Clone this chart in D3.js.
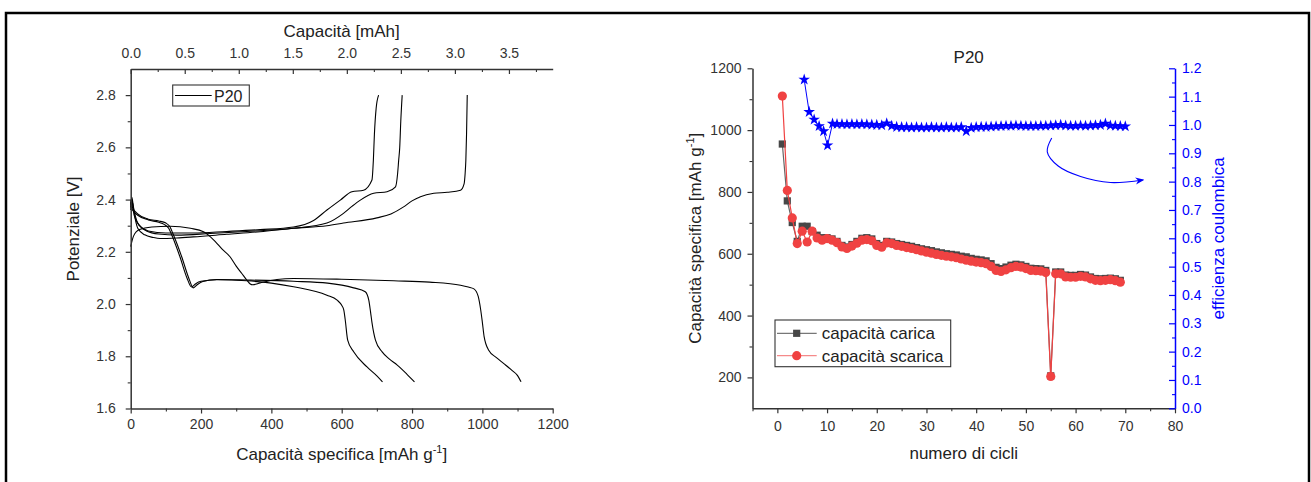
<!DOCTYPE html>
<html>
<head>
<meta charset="utf-8">
<script src="https://cdnjs.cloudflare.com/ajax/libs/d3/7.8.5/d3.min.js"></script>
<style>
body { margin: 0; background: #fff; }
svg text { font-family: "Liberation Sans", Arial, sans-serif; }
</style>
</head>
<body>
<svg id="chart"></svg>
<script>

// ---- left panel: potential profiles (capacity mAh/g, V)
var dis1 = [[0,2.22],[8,2.26],[25,2.285],[60,2.295],[112,2.298],[170,2.29],[207,2.277],[221,2.264],[240,2.24],[260,2.21],[283,2.18],[300,2.145],[316,2.117],[330,2.092],[340,2.077],[347,2.074],[368,2.081],[416,2.094],[463,2.098],[600,2.095],[748,2.089],[850,2.084],[938,2.072],[960,2.065],[976,2.058],[988,2.03],[995,1.98],[1000,1.93],[1005,1.875],[1018,1.823],[1040,1.795],[1061,1.772],[1085,1.745],[1099,1.728],[1110,1.702]];
var dis2 = [[0,2.40],[5,2.37],[20,2.345],[50,2.325],[80,2.318],[100,2.31],[112,2.295],[120,2.27],[145,2.181],[165,2.10],[178,2.062],[190,2.075],[205,2.086],[245,2.094],[330,2.092],[463,2.087],[560,2.08],[634,2.062],[667,2.047],[677,2.015],[682,1.97],[686,1.93],[696,1.862],[715,1.817],[735,1.79],[758,1.766],[785,1.732],[807,1.702]];
var dis3 = [[0,2.39],[5,2.36],[20,2.34],[50,2.322],[80,2.313],[95,2.305],[108,2.29],[115,2.27],[140,2.181],[160,2.10],[173,2.065],[185,2.078],[200,2.087],[245,2.093],[330,2.089],[400,2.08],[463,2.066],[558,2.034],[587,2.015],[600,1.995],[606,1.977],[610,1.94],[617,1.862],[634,1.817],[672,1.759],[700,1.725],[716,1.702]];
var ch1 = [[0,2.36],[3,2.40],[8,2.36],[20,2.29],[40,2.265],[64,2.255],[83,2.251],[131,2.253],[178,2.257],[273,2.267],[368,2.277],[463,2.29],[558,2.30],[605,2.31],[700,2.33],[740,2.345],[776,2.372],[800,2.395],[824,2.411],[862,2.424],[900,2.428],[938,2.436],[948,2.46],[951,2.5],[953,2.55],[955,2.65],[957,2.8]];
var ch2 = [[0,2.37],[3,2.41],[8,2.37],[20,2.31],[45,2.28],[80,2.268],[131,2.264],[226,2.27],[330,2.278],[463,2.29],[558,2.31],[605,2.347],[630,2.375],[653,2.398],[691,2.424],[729,2.43],[753,2.449],[759,2.5],[762,2.55],[765,2.6],[768,2.7],[772,2.8]];
var ch3 = [[0,2.38],[3,2.40],[10,2.34],[25,2.30],[50,2.28],[100,2.272],[178,2.272],[273,2.278],[368,2.285],[463,2.295],[520,2.32],[558,2.36],[596,2.398],[629,2.43],[662,2.436],[686,2.475],[690,2.55],[693,2.65],[698,2.75],[705,2.8]];
var profiles = [dis1, dis2, dis3, ch1, ch2, ch3];

var capTicks = [0,200,400,600,800,1000,1200];
var potTicks = [1.6,1.8,2.0,2.2,2.4,2.6,2.8];
var mahTicks = [0.0,0.5,1.0,1.5,2.0,2.5,3.0,3.5];
var mahMax = 3.905;   // mAh at 1200 mAh/g

// ---- right panel: cycling
var cycles = [1,2,3,4,5,6,7,8,9,10,11,12,13,14,15,16,17,18,19,20,21,22,23,24,25,26,27,28,29,30,31,32,33,34,35,36,37,38,39,40,41,42,43,44,45,46,47,48,49,50,51,52,53,54,55,56,57,58,59,60,61,62,63,64,65,66,67,68,69];
var capCarica = [955,771,701,640,689,689,672,660,652,652,648,640,627,622,630,640,650,652,648,633,627,640,638,633,630,627,624,620,616,613,610,606,603,600,598,596,592,590,585,582,580,577,568,556,552,557,563,566,564,559,553,552,551,546,205,541,541,531,530,530,533,531,525,520,519,520,521,519,514];
var capScarica = [1110,805,716,633,673,638,673,651,644,649,644,636,622,617,625,634,644,646,642,627,621,635,633,627,624,620,617,613,609,605,602,598,595,592,590,587,583,579,576,573,571,568,559,546,543,548,555,559,557,552,546,545,544,539,203,535,535,525,524,524,527,525,519,514,513,514,516,513,508];
var effCycles = [5.4,6.4,7.4,8.4,9.3,10.1,11.1,12,13,14,15,16,17,18,19,20,21,22,23,24,25,26,27,28,29,30,31,32,33,34,35,36,37,38,39,40,41,42,43,44,45,46,47,48,49,50,51,52,53,54,55,56,57,58,59,60,61,62,63,64,65,66,67,68,69,70];
var effValues = [1.16,1.046,1.019,0.996,0.978,0.928,1.005,1.003,1.003,1.002,1.003,1.002,1.003,1.002,1.001,1.0,0.999,1.006,0.997,0.993,0.992,0.992,0.991,0.992,0.991,0.991,0.992,0.991,0.991,0.992,0.991,0.991,0.992,0.978,0.99,0.992,0.993,0.993,0.994,0.995,0.996,0.997,0.997,0.998,0.997,0.996,0.996,0.996,0.997,0.997,0.998,0.999,1.0,0.998,0.997,0.997,0.998,0.997,0.998,0.999,1.0,1.005,0.998,0.997,0.996,0.995];
var arrowPts = [[55.2,0.954],[54.3,0.905],[56.5,0.855],[61,0.818],[67,0.797],[73.5,0.806]];

var cycTicks = [0,10,20,30,40,50,60,70,80];
var capTicksR = [200,400,600,800,1000,1200];
var effTicks = [0,0.1,0.2,0.3,0.4,0.5,0.6,0.7,0.8,0.9,1.0,1.1,1.2];

var tickFont = 14, titleFont = 17;
var red = "#f04242", grey = "#474747", blue = "#0000ff";

var svg = d3.select("#chart")
    .attr("width", 1311)
    .attr("height", 482);

svg.append("rect")
    .attr("x", 6).attr("y", 13)
    .attr("width", 1303).attr("height", 500)
    .attr("fill", "none").attr("stroke", "#000").attr("stroke-width", 2.5);

function styleAxis(g, color) {
  g.attr("font-family", null).attr("font-size", null);
  g.select(".domain").attr("stroke", color).attr("stroke-width", 1.5);
  g.selectAll(".tick line").attr("stroke", color).attr("stroke-width", 1.2);
  g.selectAll(".tick text").attr("fill", color).style("font-size", tickFont + "px");
}
function minorAxis(axis, vals, size, color, tr) {
  var g = svg.append("g").attr("transform", tr)
      .call(axis.tickValues(vals).tickSize(size).tickFormat(""));
  g.select(".domain").remove();
  g.selectAll(".tick line").attr("stroke", color).attr("stroke-width", 1.1);
}

// ================= left panel =================
var L = {left: 130.7, right: 552.7, top: 69, bottom: 408.5};

var x1 = d3.scaleLinear().domain([0, 1200]).range([L.left, L.right]);
var x1top = d3.scaleLinear().domain([0, mahMax]).range([L.left, L.right]);
var y1 = d3.scaleLinear().domain([1.6, 2.9]).range([L.bottom, L.top]);

var line1 = d3.line()
    .x(function(d) { return x1(d[0]); })
    .y(function(d) { return y1(d[1]); })
    .curve(d3.curveMonotoneX);

svg.selectAll(".prof")
    .data(profiles)
  .enter().append("path")
    .attr("class", "prof")
    .attr("d", line1)
    .attr("fill", "none")
    .attr("stroke", "#000")
    .attr("stroke-width", 1.1);

minorAxis(d3.axisLeft(y1), [1.7,1.9,2.1,2.3,2.5,2.7], 3, "#333", "translate(" + L.left + ",0)");
minorAxis(d3.axisBottom(x1), [100,300,500,700,900,1100], 3, "#333", "translate(0," + L.bottom + ")");
minorAxis(d3.axisTop(x1top), [0.25,0.75,1.25,1.75,2.25,2.75,3.25,3.75], -3, "#333", "translate(0," + L.top + ")");

svg.append("g")
    .attr("transform", "translate(" + L.left + ",0)")
    .call(d3.axisLeft(y1).tickValues(potTicks).tickSize(5).tickSizeOuter(0).tickPadding(10).tickFormat(d3.format(".1f")))
    .call(styleAxis, "#333");

svg.append("g")
    .attr("transform", "translate(0," + L.bottom + ")")
    .call(d3.axisBottom(x1).tickValues(capTicks).tickSize(5).tickSizeOuter(0).tickPadding(6).tickFormat(d3.format("d")))
    .call(styleAxis, "#333");

svg.append("g")
    .attr("transform", "translate(0," + L.top + ")")
    .call(d3.axisTop(x1top).tickValues(mahTicks).tickSize(-5).tickSizeOuter(0).tickPadding(11).tickFormat(d3.format(".1f")))
    .call(styleAxis, "#333");

svg.append("text")
    .attr("x", (L.left + L.right) / 2).attr("y", 37)
    .attr("text-anchor", "middle").style("font-size", titleFont + "px").attr("fill", "#222")
    .text("Capacità [mAh]");

var bt = svg.append("text")
    .attr("x", (L.left + L.right) / 2).attr("y", 460)
    .attr("text-anchor", "middle").style("font-size", titleFont + "px").attr("fill", "#222");
bt.append("tspan").text("Capacità specifica [mAh g");
bt.append("tspan").attr("dy", -7).style("font-size", "11px").text("-1");
bt.append("tspan").attr("dy", 7).text("]");

svg.append("text")
    .attr("transform", "translate(79," + 229 + ") rotate(-90)")
    .attr("text-anchor", "middle").style("font-size", titleFont + "px").attr("fill", "#222")
    .text("Potenziale [V]");

// legend left
svg.append("rect")
    .attr("x", 172.7).attr("y", 85).attr("width", 76.6).attr("height", 21)
    .attr("fill", "#fff").attr("stroke", "#333").attr("stroke-width", 1.1);
svg.append("line")
    .attr("x1", 175).attr("x2", 211.7).attr("y1", 95.5).attr("y2", 95.5)
    .attr("stroke", "#000").attr("stroke-width", 1.1);
svg.append("text")
    .attr("x", 214).attr("y", 101.5).style("font-size", "16px").attr("fill", "#222")
    .text("P20");

// ================= right panel =================
var R = {left: 752.5, right: 1175, top: 68.3, bottom: 408.3};

var x2 = d3.scaleLinear().domain([-5, 80]).range([R.left, R.right]);
var y2 = d3.scaleLinear().domain([100, 1200]).range([R.bottom, R.top]);
var y3 = d3.scaleLinear().domain([0, 1.2]).range([R.bottom, R.top]);

minorAxis(d3.axisLeft(y2), [300,500,700,900,1100], 3, "#333", "translate(" + R.left + ",0)");
minorAxis(d3.axisBottom(x2), [-5,5,15,25,35,45,55,65,75], 3, "#333", "translate(0," + R.bottom + ")");
minorAxis(d3.axisRight(y3), [0.05,0.15,0.25,0.35,0.45,0.55,0.65,0.75,0.85,0.95,1.05,1.15], -3, blue, "translate(" + R.right + ",0)");

svg.append("g")
    .attr("transform", "translate(" + R.left + ",0)")
    .call(d3.axisLeft(y2).tickValues(capTicksR).tickSize(5).tickSizeOuter(0).tickPadding(6).tickFormat(d3.format("d")))
    .call(styleAxis, "#333");

svg.append("g")
    .attr("transform", "translate(0," + R.bottom + ")")
    .call(d3.axisBottom(x2).tickValues(cycTicks).tickSize(5).tickSizeOuter(0).tickPadding(8).tickFormat(d3.format("d")))
    .call(styleAxis, "#333");

svg.append("g")
    .attr("transform", "translate(" + R.right + ",0)")
    .call(d3.axisRight(y3).tickValues(effTicks).tickSize(-6).tickSizeOuter(0).tickPadding(7).tickFormat(d3.format(".1f")))
    .call(styleAxis, blue);

var cargo = cycles.map(function(c, i) { return {c: c, car: capCarica[i], sca: capScarica[i]}; });
var effData = effCycles.map(function(c, i) { return {c: c, e: effValues[i]}; });

// charge (grey squares)
svg.append("path")
    .datum(cargo)
    .attr("d", d3.line().x(function(d) { return x2(d.c); }).y(function(d) { return y2(d.car); }))
    .attr("fill", "none").attr("stroke", "#666").attr("stroke-width", 1.2);
svg.selectAll(".sq")
    .data(cargo)
  .enter().append("path")
    .attr("class", "sq")
    .attr("transform", function(d) { return "translate(" + x2(d.c) + "," + y2(d.car) + ")"; })
    .attr("d", d3.symbol().type(d3.symbolSquare).size(52))
    .attr("fill", grey);

// discharge (red circles)
svg.append("path")
    .datum(cargo)
    .attr("d", d3.line().x(function(d) { return x2(d.c); }).y(function(d) { return y2(d.sca); }))
    .attr("fill", "none").attr("stroke", red).attr("stroke-width", 1.2);
svg.selectAll(".dot")
    .data(cargo)
  .enter().append("circle")
    .attr("class", "dot")
    .attr("cx", function(d) { return x2(d.c); })
    .attr("cy", function(d) { return y2(d.sca); })
    .attr("r", 4.6)
    .attr("fill", red);

// efficiency (blue stars)
svg.append("path")
    .datum(effData)
    .attr("d", d3.line().x(function(d) { return x2(d.c); }).y(function(d) { return y3(d.e); }))
    .attr("fill", "none").attr("stroke", blue).attr("stroke-width", 1);
svg.selectAll(".star")
    .data(effData)
  .enter().append("path")
    .attr("class", "star")
    .attr("transform", function(d) { return "translate(" + x2(d.c) + "," + y3(d.e) + ")"; })
    .attr("d", d3.symbol().type(d3.symbolStar).size(42))
    .attr("fill", blue);

// arrow to right axis
svg.append("defs").append("marker")
    .attr("id", "arr").attr("viewBox", "0 0 10 10")
    .attr("refX", 8).attr("refY", 5)
    .attr("markerWidth", 9).attr("markerHeight", 9)
    .attr("markerUnits", "userSpaceOnUse")
    .attr("orient", "auto")
  .append("path").attr("d", "M0,1 L10,5 L0,9 L3,5 Z").attr("fill", blue);
svg.append("path")
    .datum(arrowPts)
    .attr("d", d3.line().x(function(d) { return x2(d[0]); }).y(function(d) { return y3(d[1]); }).curve(d3.curveCatmullRom))
    .attr("fill", "none").attr("stroke", blue).attr("stroke-width", 1.1)
    .attr("marker-end", "url(#arr)");

// titles
svg.append("text")
    .attr("x", 968.7).attr("y", 62.7)
    .attr("text-anchor", "middle").style("font-size", titleFont + "px").attr("fill", "#222")
    .text("P20");

svg.append("text")
    .attr("x", (R.left + R.right) / 2).attr("y", 458.7)
    .attr("text-anchor", "middle").style("font-size", titleFont + "px").attr("fill", "#222")
    .text("numero di cicli");

var lt = svg.append("text")
    .attr("transform", "translate(700.5," + ((R.top + R.bottom) / 2) + ") rotate(-90)")
    .attr("text-anchor", "middle").style("font-size", titleFont + "px").attr("fill", "#222");
lt.append("tspan").text("Capacità specifica [mAh g");
lt.append("tspan").attr("dy", -7).style("font-size", "11px").text("-1");
lt.append("tspan").attr("dy", 7).text("]");

svg.append("text")
    .attr("transform", "translate(1223.5," + ((R.top + R.bottom) / 2) + ") rotate(-90)")
    .attr("text-anchor", "middle").style("font-size", titleFont + "px").attr("fill", blue)
    .text("efficienza coulombica");

// legend right
svg.append("rect")
    .attr("x", 775).attr("y", 320).attr("width", 175.7).attr("height", 46.7)
    .attr("fill", "#fff").attr("stroke", "#333").attr("stroke-width", 1.1);

var legItems = [
  {label: "capacità carica", color: grey, lineColor: "#777", shape: "sq", y: 333.3},
  {label: "capacità scarica", color: red, lineColor: "#f58a8a", shape: "ci", y: 355.7}
];
legItems.forEach(function(it) {
  svg.append("line")
      .attr("x1", 777).attr("x2", 816.7).attr("y1", it.y).attr("y2", it.y)
      .attr("stroke", it.lineColor).attr("stroke-width", 1.2);
  if (it.shape == "sq") {
    svg.append("path")
        .attr("transform", "translate(796.7," + it.y + ")")
        .attr("d", d3.symbol().type(d3.symbolSquare).size(52))
        .attr("fill", it.color);
  } else {
    svg.append("circle").attr("cx", 796.7).attr("cy", it.y).attr("r", 4.6).attr("fill", it.color);
  }
  svg.append("text")
      .attr("x", 821.7).attr("y", it.y + 6)
      .style("font-size", titleFont + "px").attr("fill", "#222")
      .text(it.label);
});

</script>
</body>
</html>
